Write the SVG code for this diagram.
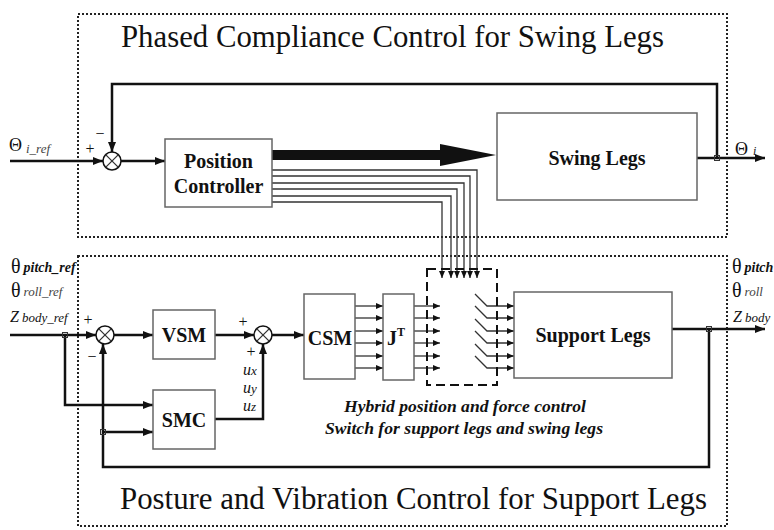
<svg xmlns="http://www.w3.org/2000/svg" width="774" height="530" viewBox="0 0 774 530">
<style>
.frame{fill:none;stroke:#222;stroke-width:2;stroke-dasharray:2,2}
.box{fill:#fff;stroke:#666;stroke-width:1.5}
.ln{fill:none;stroke:#111;stroke-width:2.5}
.tn{fill:none;stroke:#333;stroke-width:1.3}
.sum{fill:#fff;stroke:#111;stroke-width:1.5}
.t{font-family:"Liberation Serif","Times New Roman",serif;fill:#111}
.title{font-size:31px}
.lbl{font-size:20px;font-weight:bold;text-anchor:middle}
.it{font-style:italic}
.mk{fill:none;stroke:#333;stroke-width:1}
</style>
<defs>
<marker id="arr" markerUnits="userSpaceOnUse" markerWidth="10" markerHeight="8" refX="10" refY="4" orient="auto"><path d="M0,0 L10,4 L0,8 z" fill="#111"/></marker>
<marker id="arrs" markerUnits="userSpaceOnUse" markerWidth="7" markerHeight="6" refX="7" refY="3" orient="auto"><path d="M0,0 L7,3 L0,6 z" fill="#111"/></marker>
</defs>
<rect width="774" height="530" fill="#fff"/>

<g id="swing-frame">
<rect class="frame" x="78" y="14" width="649" height="223"/>
<text class="t title" x="121" y="47" textLength="543" lengthAdjust="spacingAndGlyphs">Phased Compliance Control for Swing Legs</text>
</g>
<g id="support-frame">
<rect class="frame" x="78" y="256" width="649" height="270"/>
<text class="t title" x="120" y="509" textLength="587" lengthAdjust="spacingAndGlyphs">Posture and Vibration Control for Support Legs</text>
</g>

<g id="connectors">
<path class="ln" d="M10,161 H103" marker-end="url(#arr)"/>
<path class="ln" d="M121,161 H165" marker-end="url(#arr)"/>
<polygon points="272,150 440,150 440,144 496,155 440,166 440,160 272,160" fill="#111"/>
<path class="ln" d="M697,158 H765" marker-end="url(#arr)"/>
<path class="ln" d="M717,158 V84 H112 V152" marker-end="url(#arr)"/>
<path class="tn" d="M272,170 H477 V278" marker-end="url(#arrs)"/>
<path class="tn" d="M272,176 H470 V278" marker-end="url(#arrs)"/>
<path class="tn" d="M272,183 H464 V278" marker-end="url(#arrs)"/>
<path class="tn" d="M272,189 H457 V278" marker-end="url(#arrs)"/>
<path class="tn" d="M272,196 H451 V278" marker-end="url(#arrs)"/>
<path class="tn" d="M272,202 H442 V278" marker-end="url(#arrs)"/>

<path class="ln" d="M10,335 H96" marker-end="url(#arr)"/>
<path class="ln" d="M65,335 V405 H153" marker-end="url(#arr)"/>
<path class="ln" d="M114,335 H153" marker-end="url(#arr)"/>
<path class="ln" d="M215,335 H254" marker-end="url(#arr)"/>
<path class="ln" d="M215,419 H263 V344" marker-end="url(#arr)"/>
<path class="ln" d="M272,335 H304" marker-end="url(#arr)"/>
<g class="tn" stroke-width="1.6">
<path d="M355,306 H383" marker-end="url(#arrs)"/>
<path d="M355,318 H383" marker-end="url(#arrs)"/>
<path d="M355,331 H383" marker-end="url(#arrs)"/>
<path d="M355,343 H383" marker-end="url(#arrs)"/>
<path d="M355,356 H383" marker-end="url(#arrs)"/>
<path d="M355,368 H383" marker-end="url(#arrs)"/>
<path d="M414,306 H440" marker-end="url(#arrs)"/>
<path d="M414,318 H440" marker-end="url(#arrs)"/>
<path d="M414,331 H440" marker-end="url(#arrs)"/>
<path d="M414,343 H440" marker-end="url(#arrs)"/>
<path d="M414,356 H440" marker-end="url(#arrs)"/>
<path d="M414,368 H440" marker-end="url(#arrs)"/>
<path d="M475,294 L487,306 H514" marker-end="url(#arrs)"/>
<path d="M475,306 L487,318 H514" marker-end="url(#arrs)"/>
<path d="M475,319 L487,331 H514" marker-end="url(#arrs)"/>
<path d="M475,331 L487,343 H514" marker-end="url(#arrs)"/>
<path d="M475,344 L487,356 H514" marker-end="url(#arrs)"/>
<path d="M475,356 L487,368 H514" marker-end="url(#arrs)"/>
</g>
<path class="ln" d="M672,329 H765" marker-end="url(#arr)"/>
<path class="ln" d="M709,329 V467 H103 V344" marker-end="url(#arr)"/>
<path class="ln" d="M103,432 H153" marker-end="url(#arr)"/>
<rect class="mk" x="714.5" y="155.5" width="5" height="5"/>
<rect class="mk" x="62.5" y="332.5" width="5" height="5"/>
<rect class="mk" x="706.5" y="326.5" width="5" height="5"/>
<rect class="mk" x="100.5" y="429.5" width="5" height="5"/>
</g>

<g id="sum1">
<circle class="sum" cx="112" cy="161" r="9"/>
<path class="tn" stroke="#111" d="M105.6,154.6 L118.4,167.4 M118.4,154.6 L105.6,167.4"/>
<text class="t" x="90" y="154" font-size="16" text-anchor="middle">+</text>
<text class="t" x="100" y="139" font-size="16" text-anchor="middle">−</text>
</g>
<g id="theta-i-ref">
<text class="t" x="9" y="151" font-size="18">Θ<tspan class="it" font-size="13" dx="4" dy="2" fill="#444">i_ref</tspan></text>
</g>
<g id="position-controller">
<rect class="box" x="165" y="139" width="107" height="68"/>
<text class="t lbl" x="218.5" y="168">Position</text>
<text class="t lbl" x="218.5" y="193">Controller</text>
</g>
<g id="swing-legs">
<rect class="box" x="497" y="113" width="200" height="87"/>
<text class="t lbl" x="597" y="165" font-size="24">Swing Legs</text>
</g>
<g id="theta-i">
<text class="t" x="735" y="155" font-size="18">Θ<tspan class="it" font-size="12" dx="5">i</tspan></text>
</g>

<g id="ref-inputs">
<text class="t" x="11" y="273" font-size="20">θ<tspan class="it" font-weight="bold" font-size="14" dx="3" dy="-1">pitch_ref</tspan></text>
<text class="t" x="11" y="297" font-size="20">θ<tspan class="it" font-size="13" dx="3" dy="-1" fill="#444">roll_ref</tspan></text>
<text class="t it" x="10" y="322" font-size="16" fill="#444">Z<tspan font-size="13" dx="3">body_ref</tspan></text>
</g>
<g id="sum2">
<circle class="sum" cx="105" cy="335" r="9"/>
<path class="tn" stroke="#111" d="M98.6,328.6 L111.4,341.4 M111.4,328.6 L98.6,341.4"/>
<text class="t" x="88" y="325" font-size="16" text-anchor="middle">+</text>
<text class="t" x="92" y="362" font-size="16" text-anchor="middle">−</text>
</g>
<g id="vsm">
<rect class="box" x="153" y="310" width="62" height="49"/>
<text class="t lbl" x="184" y="342">VSM</text>
</g>
<g id="smc">
<rect class="box" x="153" y="390" width="62" height="59"/>
<text class="t lbl" x="184" y="427">SMC</text>
</g>
<g id="sum3">
<circle class="sum" cx="263" cy="335" r="9"/>
<path class="tn" stroke="#111" d="M256.6,328.6 L269.4,341.4 M269.4,328.6 L256.6,341.4"/>
<text class="t" x="243" y="327" font-size="16" text-anchor="middle">+</text>
<text class="t" x="251" y="357" font-size="16" text-anchor="middle">+</text>
<text class="t it" x="243" y="375" font-size="16">u<tspan font-size="13">x</tspan></text>
<text class="t it" x="243" y="393" font-size="16">u<tspan font-size="13">y</tspan></text>
<text class="t it" x="243" y="411" font-size="16">u<tspan font-size="13">z</tspan></text>
</g>
<g id="csm">
<rect class="box" x="304" y="294" width="51" height="85"/>
<text class="t lbl" x="330" y="345">CSM</text>
</g>
<g id="jt">
<rect class="box" x="383" y="294" width="31" height="86"/>
<text class="t lbl" x="396" y="345">J<tspan font-size="12" dy="-9">T</tspan></text>
</g>
<g id="switch">
<rect x="427" y="269" width="70" height="116" fill="none" stroke="#111" stroke-width="2" stroke-dasharray="9,5"/>
<text class="t" x="465" y="412" font-size="16" font-style="italic" font-weight="bold" text-anchor="middle" textLength="242" lengthAdjust="spacingAndGlyphs">Hybrid position and force control</text>
<text class="t" x="464" y="434" font-size="16" font-style="italic" font-weight="bold" text-anchor="middle" textLength="278" lengthAdjust="spacingAndGlyphs">Switch for support legs and swing legs</text>
</g>
<g id="support-legs">
<rect class="box" x="514" y="292" width="158" height="86"/>
<text class="t lbl" x="593" y="342" font-size="24">Support Legs</text>
</g>
<g id="outputs">
<text class="t" x="732" y="273" font-size="20">θ<tspan class="it" font-weight="bold" font-size="14" dx="3" dy="-1">pitch</tspan></text>
<text class="t" x="732" y="297" font-size="20">θ<tspan class="it" font-size="13" dx="3" dy="-1" fill="#444">roll</tspan></text>
<text class="t it" x="733" y="322" font-size="16" fill="#444">Z<tspan font-size="13" dx="3">body</tspan></text>
</g>
</svg>
